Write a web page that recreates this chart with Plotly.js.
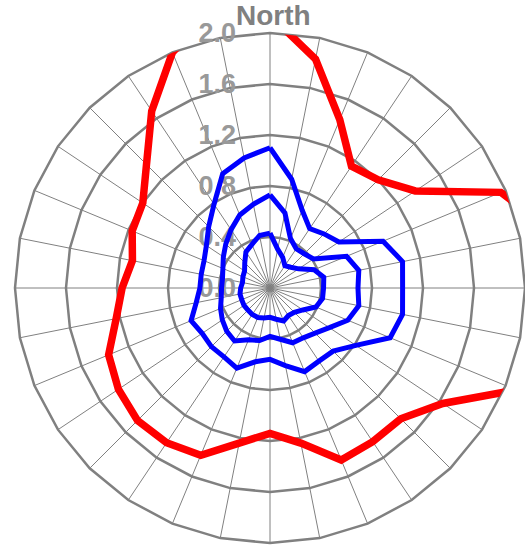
<!DOCTYPE html>
<html>
<head>
<meta charset="utf-8">
<script src="https://cdn.plot.ly/plotly-3.0.1.min.js"></script>
<style>
  html, body { margin: 0; padding: 0; background: #ffffff; overflow: hidden; }
  #chart { width: 525px; height: 546px; }
</style>
</head>
<body>
<div id="chart"></div>
<script>
// 32 compass directions, clockwise from North
const directions = ['N','NbE','NNE','NEbN','NE','NEbE','ENE','EbN',
                    'E','EbS','ESE','SEbE','SE','SEbS','SSE','SbE',
                    'S','SbW','SSW','SWbS','SW','SWbW','WSW','WbS',
                    'W','WbN','WNW','NWbW','NW','NWbN','NNW','NbW'];
const directionLabels = directions.map(d => (d === 'N' ? 'North' : ''));

const radialTickVals = [0, 0.4, 0.8, 1.2, 1.6, 2.0];
const radialTickText = ['0.0', '0.4', '0.8', '1.2', '1.6', '2.0'];

// series values
const seriesInner = [0.43,0.31,0.26,0.21,0.23,0.27,0.375,0.43,0.42,0.42,0.39,0.31,0.27,0.26,0.28,0.25,
                     0.23,0.24,0.25,0.25,0.245,0.245,0.24,0.24,0.23,0.22,0.23,0.24,0.28,0.34,0.37,0.42];
const seriesMiddle = [0.73,0.60,0.42,0.37,0.38,0.41,0.65,0.71,0.69,0.71,0.66,0.56,0.50,0.47,0.465,0.41,
                      0.38,0.42,0.44,0.50,0.48,0.45,0.42,0.39,0.38,0.38,0.40,0.44,0.49,0.55,0.62,0.67];
const seriesOuter = [1.10,0.87,0.66,0.56,0.60,0.65,0.96,1.06,1.04,1.06,1.02,0.81,0.70,0.69,0.71,0.62,
                     0.56,0.59,0.68,0.65,0.65,0.64,0.67,0.59,0.55,0.55,0.56,0.60,0.68,0.79,0.97,1.04];
const seriesRed = [2.14,1.83,1.43,1.15,1.20,1.37,1.96,2.26,2.30,2.25,2.09,1.63,1.45,1.45,1.46,1.24,
                   1.14,1.24,1.42,1.46,1.47,1.43,1.37,1.23,1.16,1.10,1.17,1.20,1.37,1.67,2.00,2.24];

function closed(arr) { return arr.concat([arr[0]]); }

function trace(values, color, width) {
  return {
    type: 'scatterpolar',
    mode: 'lines',
    r: closed(values),
    theta: closed(directions),
    line: { color: color, width: width, shape: 'linear' },
    hoverinfo: 'skip',
    showlegend: false
  };
}

const data = [
  trace(seriesInner, '#0000FF', 5),
  trace(seriesMiddle, '#0000FF', 5),
  trace(seriesOuter, '#0000FF', 5),
  trace(seriesRed, '#FF0000', 7.5)
];

const W = 525, H = 546;
const FONT = 'Arial, "Liberation Sans", sans-serif';
const layout = {
  width: W, height: H,
  margin: { l: 0, r: 0, t: 0, b: 0, pad: 0 },
  paper_bgcolor: '#ffffff',
  showlegend: false,
  font: { family: FONT },
  polar: {
    domain: { x: [15 / W, 525 / W], y: [3 / H, 513 / H] },
    bgcolor: '#ffffff',
    gridshape: 'linear',
    radialaxis: {
      range: [0, 2.0],
      tickmode: 'array',
      tickvals: radialTickVals,
      ticktext: radialTickText,
      angle: 90,
      tickangle: 90,
      side: 'counterclockwise',
      showline: false,
      ticks: 'outside',
      ticklen: 24,
      tickcolor: 'rgba(0,0,0,0)',
      tickfont: { family: FONT, size: 27, color: '#999999', weight: 'bold' },
      gridcolor: '#808080',
      gridwidth: 2.5,
      layer: 'below traces'
    },
    angularaxis: {
      type: 'category',
      categoryarray: directions,
      rotation: 90,
      direction: 'clockwise',
      tickmode: 'array',
      tickvals: directions,
      ticktext: directionLabels,
      showticklabels: false,
      ticks: '',
      showline: true,
      linecolor: '#808080',
      linewidth: 2.5,
      gridcolor: '#808080',
      gridwidth: 1,
      layer: 'below traces'
    }
  },
  annotations: [{
    text: directionLabels[0],
    xref: 'paper', yref: 'paper',
    x: 273 / W, y: (H - 15) / H,
    xanchor: 'center', yanchor: 'middle',
    showarrow: false,
    font: { family: FONT, size: 28, color: '#808080', weight: 'bold' }
  }]
};

Plotly.newPlot('chart', data, layout, { staticPlot: true, displayModeBar: false });
</script>
</body>
</html>
